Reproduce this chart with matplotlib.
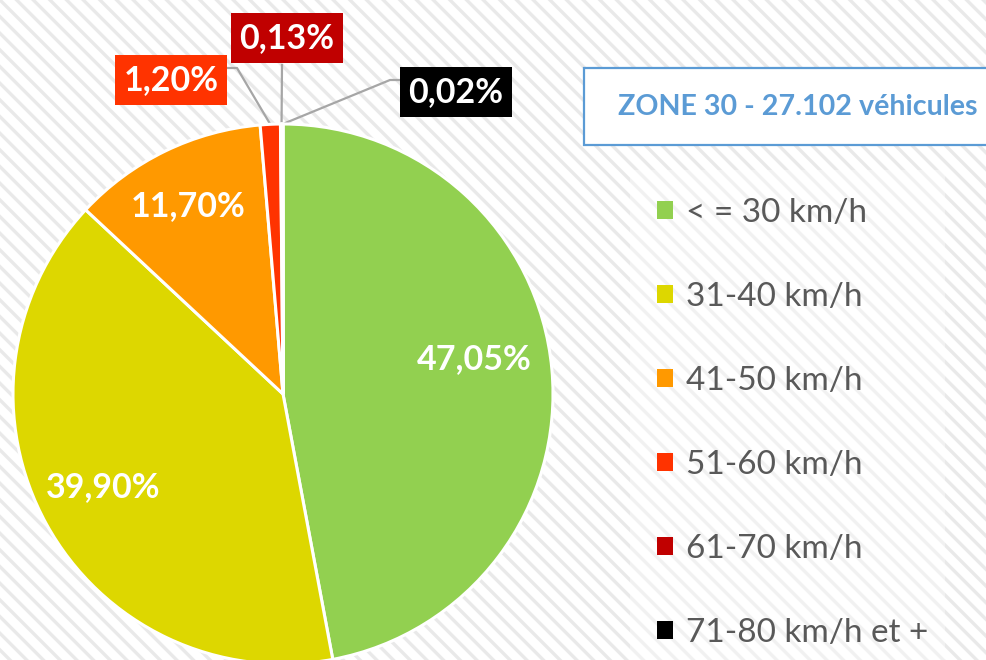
"""Zone 30 speed distribution pie (27.102 vehicles)."""
import matplotlib
matplotlib.use("Agg")
import matplotlib.pyplot as plt
import numpy as np
from matplotlib.patches import Rectangle, Patch

plt.rcParams["font.family"] = ["Lato", "DejaVu Sans"]
plt.rcParams["hatch.linewidth"] = 2.4

# data
categories = ["< = 30 km/h", "31-40 km/h", "41-50 km/h", "51-60 km/h",
              "61-70 km/h", "71-80 km/h et +"]
shares = [47.05, 39.90, 11.70, 1.20, 0.13, 0.02]
colors = ["#92D050", "#DDD700", "#FF9900", "#FF3300", "#C00000", "#000000"]
title = "ZONE 30 - 27.102 véhicules"

W, H = 986, 660
fig = plt.figure(figsize=(W / 100, H / 100), dpi=100)
ax = fig.add_axes([0, 0, 1, 1])

# striped background
ax.add_patch(Rectangle((0, 0), W, H, facecolor="white", edgecolor="#E9E9E9",
                       hatch="\\\\", linewidth=0, zorder=0))
ax.add_patch(Rectangle((630, 0), 315, 490, facecolor="white", edgecolor="none",
                       alpha=0.4, zorder=0.5))

cx, cy, R = 283, 266, 270
wedges, _ = ax.pie(shares, colors=colors, startangle=90, counterclock=False,
                   center=(cx, cy), radius=R,
                   wedgeprops=dict(edgecolor="white", linewidth=2.2))
for w in wedges:
    w.set_zorder(2)


def fmt(v):
    return f"{v:.2f}%".replace(".", ",")


def edge_point(w, frac):
    ang = np.deg2rad((w.theta1 + w.theta2) / 2)
    return cx + frac * R * np.cos(ang), cy + frac * R * np.sin(ang)


# labels inside the big slices (distance, angle nudge in degrees)
inner = {0: (0.72, 5.0), 1: (0.75, -1.5), 2: (0.78, 1.0)}
for i, (dist, nudge) in inner.items():
    w = wedges[i]
    ang = np.deg2rad((w.theta1 + w.theta2) / 2 + nudge)
    ax.text(cx + dist * R * np.cos(ang), cy + dist * R * np.sin(ang),
            fmt(shares[i]), color="white", fontsize=24.5, fontweight="bold",
            ha="center", va="center", zorder=3)

# boxed labels for the thin slices, with leader lines
outer = {
    3: ((171, 580), [(237, 592), (225, 592)]),
    4: ((287, 622), [(282, 595)]),
    5: ((456, 568), [(390, 580), (401, 580)]),
}
for i, (pos, path) in outer.items():
    x0, y0 = edge_point(wedges[i], 1.0)
    xs = [x0] + [p[0] for p in path]
    ys = [y0] + [p[1] for p in path]
    ax.plot(xs, ys, color="#A6A6A6", lw=1.6, zorder=1.5)
    ax.text(pos[0], pos[1], fmt(shares[i]), color="white", fontsize=24.5,
            fontweight="bold", ha="center", va="center", zorder=3,
            bbox=dict(boxstyle="square,pad=0.25", facecolor=colors[i],
                      edgecolor="none"))

# title box
ax.add_patch(Rectangle((584, 515), 420, 77, facecolor="white",
                       edgecolor="#5B9BD5", linewidth=1.6, zorder=2))
ax.text(798, 553, title, color="#5B9BD5", fontsize=20.6, fontweight="bold",
        ha="center", va="center", zorder=3)

# legend
handles = [Patch(facecolor=c, edgecolor="none") for c in colors]
ax.legend(handles, categories, loc="upper left", bbox_to_anchor=(640 / W, 479 / H),
          frameon=False, fontsize=24, labelcolor="#595959",
          handlelength=0.48, handleheight=0.48, handletextpad=0.39,
          labelspacing=1.62, borderpad=0)

ax.set_xlim(0, W)
ax.set_ylim(0, H)
ax.set_aspect("equal")
ax.set_axis_off()

fig.savefig("out.png", dpi=100)
